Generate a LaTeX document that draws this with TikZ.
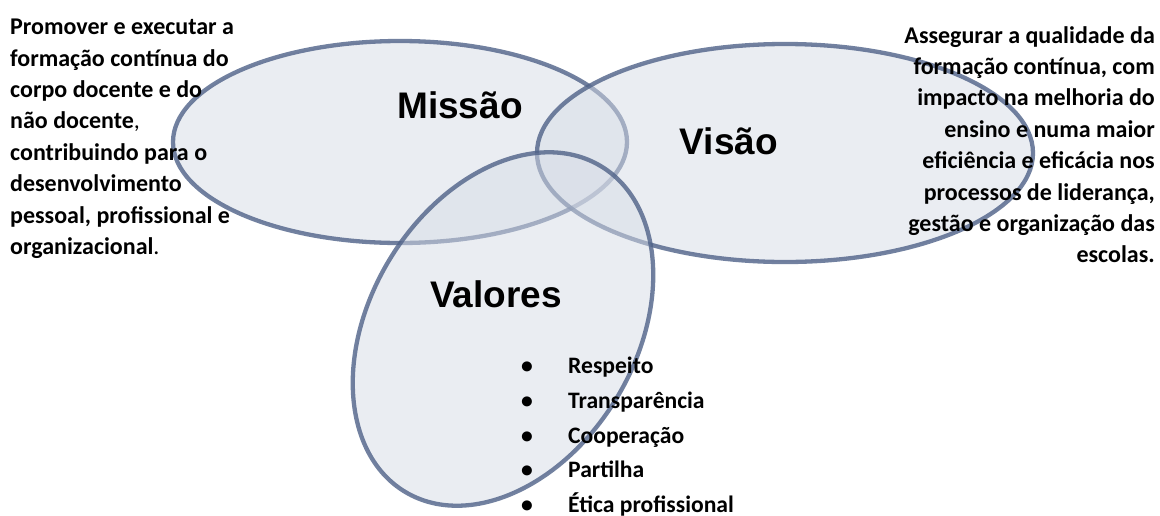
\documentclass[tikz,border=0pt]{standalone}
\usepackage{fontspec}
\setmainfont{Carlito}
\newfontfamily\arialfont{Liberation Sans}
\definecolor{vennline}{RGB}{79,98,136}
\definecolor{vennfill}{RGB}{214,220,230}
\begin{document}
\begin{tikzpicture}[x=1pt,y=1pt,yscale=-1]
	\tikzstyle{venn}=[line width=4.3pt,draw=vennline,draw opacity=0.8,fill=vennfill,fill opacity=0.5];
	\tikzstyle{titulo}=[anchor=base,inner sep=0pt,font=\arialfont\bfseries\fontsize{37}{40}\selectfont];
	\tikzstyle{texto}=[inner sep=0pt,font=\bfseries\fontsize{24}{31.4}\selectfont];
	\tikzstyle{lista}=[inner sep=0pt,align=left,font=\bfseries\fontsize{23.6}{34.7}\selectfont];
	\useasboundingbox (0,0) rectangle (1160,515);

	\draw[venn] (400,142) ellipse (227 and 101);
	\draw[venn] (785,153) ellipse (248 and 109);
	\draw[venn,rotate around={-59:(503,329)}] (503,329) ellipse (190 and 133);

	\node[titulo] (missao)  at (460,118) {Missão};
	\node[titulo] (visao)   at (729,154) {Visão};
	\node[titulo] (valores) at (496,307) {Valores};

	\node[texto,anchor=north west,align=left] (missaotxt) at (10,19)
		{Promover e executar a\\formação contínua do\\corpo docente e do\\não docente{\mdseries,}\\contribuindo para o\\desenvolvimento\\pessoal, profissional e\\organizacional{\mdseries.}};
	\node[texto,anchor=north east,align=right] (visaotxt) at (1155,26)
		{Assegurar a qualidade da\\formação contínua, com\\impacto na melhoria do\\ensino e numa maior\\eficiência e eficácia nos\\processos de liderança,\\gestão e organização das\\escolas.};
	\node[lista,anchor=north west] (valorestxt) at (521,357)
		{\makebox[47pt][l]{•}Respeito\\\makebox[47pt][l]{•}Transparência\\\makebox[47pt][l]{•}Cooperação\\\makebox[47pt][l]{•}Partilha\\\makebox[47pt][l]{•}Ética profissional};
\end{tikzpicture}
\end{document}
